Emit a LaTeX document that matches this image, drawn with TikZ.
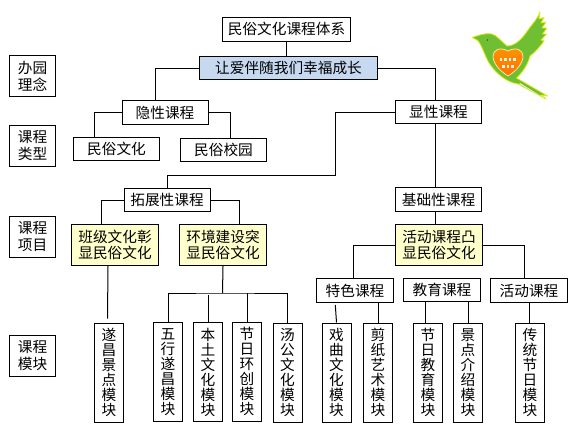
\documentclass[tikz,border=0pt]{standalone}
\usepackage{fontspec}
\usepackage{xcolor}
\setmainfont{Noto Sans CJK SC}
\usetikzlibrary{positioning}
\definecolor{birdgreen}{HTML}{70BF32}
\definecolor{birdedge}{HTML}{DDEB10}
\definecolor{sky}{HTML}{C6D9F1}
\definecolor{cream}{HTML}{FFFFCC}

\begin{document}
\begin{tikzpicture}[x=0.75pt,y=-0.75pt,
  box/.style={draw=black, line width=0.75pt, fill=white, inner sep=0pt,
              minimum width=64.5pt, minimum height=17.25pt, align=center,
              font=\fontsize{11}{12}\selectfont},
  side/.style={box, minimum width=34.5pt, minimum height=30.75pt,
               font=\fontsize{11}{12.75}\selectfont},
  key/.style={box, fill=cream, minimum width=65.25pt, minimum height=30.75pt},
  sub/.style={box, minimum width=57.75pt},
  mods/.style={box, minimum width=21.75pt, minimum height=74.25pt,
               font=\fontsize{11}{11.25}\selectfont},
  link/.style={line width=0.75pt, draw=black}]
\useasboundingbox (0,0) rectangle (577,432);
% --- row labels on the left ---
\node[side] (idea) at (32.5,76) {办园\\理念};
\node[side] (kind) at (32.5,146) {课程\\类型};
\node[side] (item) at (32.5,237) {课程\\项目};
\node[side] (unit) at (32.5,356) {课程\\模块};
% --- top of the tree ---
\node[box, minimum width=96pt, minimum height=18pt] (title) at (286.5,29) {民俗文化课程体系};
\node[box, fill=sky, minimum width=133.5pt] (motto) at (288.5,68) {让爱伴随我们幸福成长};
\node[box, minimum height=18pt] (hidden) at (165,112.5) {隐性课程};
\node[box] (shown) at (438.5,112) {显性课程};
\node[box] (folk) at (116.5,149) {民俗文化};
\node[box] (yard) at (223.5,150) {民俗校园};
\node[box] (extend) at (167,200) {拓展性课程};
\node[box, minimum height=18pt] (basic) at (438.5,199.5) {基础性课程};
% --- yellow boxes ---
\node[key] (klass) at (115,245) {班级文化彰\\显民俗文化};
\node[key] (envir) at (223,245) {环境建设突\\显民俗文化};
\node[key] (activ) at (439,245) {活动课程凸\\显民俗文化};
% --- third level ---
\node[sub, minimum height=18pt] (special) at (355,290.5) {特色课程};
\node[sub] (educ) at (442,290) {教育课程};
\node[sub, minimum height=18pt] (event) at (529,290.5) {活动课程};
% --- upright module boxes ---
\node[mods] (m1) at (109,372.5) {遂\\昌\\景\\点\\模\\块};
\node[mods] (m2) at (168,372) {五\\行\\遂\\昌\\模\\块};
\node[mods] (m3) at (208,372) {本\\土\\文\\化\\模\\块};
\node[mods] (m4) at (247,371.5) {节\\日\\环\\创\\模\\块};
\node[mods] (m5) at (287.5,372.5) {汤\\公\\文\\化\\模\\块};
\node[mods] (m6) at (336.5,372.5) {戏\\曲\\文\\化\\模\\块};
\node[mods] (m7) at (378,372.5) {剪\\纸\\艺\\术\\模\\块};
\node[mods] (m8) at (428,372.5) {节\\日\\教\\育\\模\\块};
\node[mods] (m9) at (468,372.5) {景\\点\\介\\绍\\模\\块};
\node[mods] (m10) at (530,372.5) {传\\统\\节\\日\\模\\块};
% --- connectors, upper part ---
\coordinate (bend) at (335.5,175);
\coordinate (bar) at (222.5,293);
\draw[link] (title.south) -- (title.south |- motto.north);
\draw[link] (motto.west) -| ([xshift=-7.5pt]hidden.north);
\draw[link] (motto.east) -| ([xshift=-2.25pt]shown.north);
\draw[link] (hidden.west) -| ([xshift=-16.5pt]folk.north);
\draw[link] (hidden.east) -| ([xshift=5.25pt]yard.north);
\draw[link] (shown.west) -| (bend) -| (extend.north);
\draw[link] ([xshift=-2.625pt]shown.south) -- ([xshift=-2.625pt]basic.north);
\draw[link] ([xshift=-2.25pt]basic.south) -- ([xshift=-2.625pt]activ.north);
\draw[link] (extend.west) -| ([xshift=-10.5pt]klass.north);
\draw[link] (extend.east) -| ([xshift=12pt]envir.north);
% --- connectors, lower part ---
\draw[link] ([xshift=-5.25pt]klass.south) -- ([xshift=-1.125pt,yshift=3pt]m1.north);
\draw[link] (envir.south) -- (bar);
\draw[link] (m2.north) |- (bar) -| (m5.north);
\draw[link] (m3.north) -- ([yshift=-1.5pt]m3.north |- bar);
\draw[link] (m4.north) -- (m4.north |- bar);
\draw[link] (activ.west) -| ([xshift=-1.25pt]special.north);
\draw[link] (activ.east) -| ([xshift=-3.5pt]event.north);
\draw[link] ([xshift=-0.9pt,yshift=-1.5pt]special.south -| m6.north) -- (m6.north);
\draw[link] (special.south -| m7.north) -- (m7.north);
\draw[link] ([xshift=-2pt]educ.south -| m8.north) -- ([xshift=-2pt]m8.north);
\draw[link] (educ.south -| m9.north) -- (m9.north);
\draw[link] (event.south) -- (event.south |- m10.north);
% --- bird ---
\draw[draw=birdedge, fill=birdgreen, line width=0.6pt, line join=round]
  (472,37.5) .. controls (478,35.5) and (486,32.5) .. (492,34)
  .. controls (497,35.5) and (502,42) .. (507,46)
  .. controls (515,46) and (522,39) .. (528,30)
  .. controls (533,23) and (538,18) .. (540,12)
  -- (539,19) -- (544,17.5) -- (541,23) -- (546,22) -- (542,28) -- (547,28)
  -- (542.5,34) -- (546.5,34) -- (541,40) -- (544,41)
  .. controls (539,48) and (534,53) .. (530,56)
  .. controls (528,64) and (523,72) .. (516.5,78)
  -- (547.5,96) -- (541,95) -- (546,99) -- (518,84)
  .. controls (505,82) and (495,72) .. (489,63)
  .. controls (484,54) and (481,43) .. (477,40) -- cycle;
\fill[white!80!birdgreen] (519,84) -- (542,96.5) -- (544,97.8) -- (520,83) -- cycle;
\draw[draw=white!70!birdedge, top color=orange!85!yellow, bottom color=orange!90!red, line width=0.5pt]
  (508,76) .. controls (498,70) and (493,62) .. (493,56)
  .. controls (493,50) and (500,46.5) .. (508,51)
  .. controls (516,46.5) and (523,50) .. (523,56)
  .. controls (523,62) and (518,70) .. (508,76) -- cycle;
\foreach \xa in {501,505.5,510,514.5}
  \fill[white!90!orange] (\xa-1.3,58.2) rectangle (\xa+1.3,61);
\foreach \xa in {503.5,508,512.5}
  \fill[white!90!orange] (\xa-1.3,64.7) rectangle (\xa+1.3,67.5);
\fill[black!70] (487.5,40) circle (0.8);
\end{tikzpicture}
\end{document}
